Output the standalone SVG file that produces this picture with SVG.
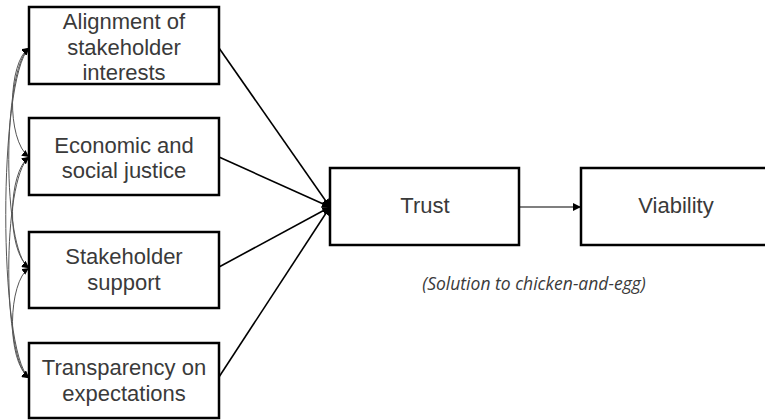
<svg xmlns="http://www.w3.org/2000/svg" width="765" height="420" viewBox="0 0 765 420">
<defs>
<style>
.box{fill:#fff;stroke:#000;stroke-width:2.5}
.lbl{font-family:"Liberation Sans",Arial,sans-serif;font-size:22px;fill:#3a3a3a;text-anchor:middle}
.note{font-family:"Open Sans","Liberation Sans",sans-serif;font-style:italic;font-size:17.5px;fill:#3a3a3a;text-anchor:middle}
.ln{stroke:#000;stroke-width:1.6;fill:none}
.cv{stroke:#555;stroke-width:1;fill:none}
</style>
<marker id="ah" viewBox="0 0 10 10" refX="10" refY="5" markerWidth="8" markerHeight="8" markerUnits="userSpaceOnUse" orient="auto">
<path d="M0,0 L10,5 L0,10 z" fill="#000"/>
</marker>
<marker id="ahs" viewBox="0 0 10 10" refX="10" refY="5" markerWidth="7" markerHeight="7" markerUnits="userSpaceOnUse" orient="auto-start-reverse">
<path d="M0,0 L10,5 L0,10 z" fill="#000"/>
</marker>
</defs>
<rect width="765" height="420" fill="#fff"/>
<g id="connectors">
<line class="ln" x1="219" y1="48" x2="330" y2="207" marker-end="url(#ah)"/>
<line class="ln" x1="219" y1="157" x2="330" y2="207" marker-end="url(#ah)"/>
<line class="ln" x1="219" y1="267" x2="330" y2="207" marker-end="url(#ah)"/>
<line class="ln" x1="219" y1="377" x2="330" y2="207" marker-end="url(#ah)"/>
<line x1="519" y1="207" x2="581" y2="207" stroke="#000" stroke-width="1.2" marker-end="url(#ah)"/>
<path class="cv" d="M29,48 C8,62 6,140 29,157" marker-start="url(#ahs)" marker-end="url(#ahs)"/>
<path class="cv" d="M29,48 C2,70 2,250 29,268" marker-start="url(#ahs)" marker-end="url(#ahs)"/>
<path class="cv" d="M29,48 C-2,80 -2,350 29,378" marker-start="url(#ahs)" marker-end="url(#ahs)"/>
<path class="cv" d="M29,157 C8,172 6,250 29,268" marker-start="url(#ahs)" marker-end="url(#ahs)"/>
<path class="cv" d="M29,157 C2,180 2,360 29,378" marker-start="url(#ahs)" marker-end="url(#ahs)"/>
<path class="cv" d="M29,268 C8,282 6,360 29,378" marker-start="url(#ahs)" marker-end="url(#ahs)"/>
</g>
<g id="n1">
<rect class="box" x="29" y="7" width="190" height="77"/>
<text class="lbl" x="124" y="29">Alignment of</text>
<text class="lbl" x="124" y="55">stakeholder</text>
<text class="lbl" x="124" y="80">interests</text>
</g>
<g id="n2">
<rect class="box" x="29" y="118" width="190" height="77"/>
<text class="lbl" x="124" y="153">Economic and</text>
<text class="lbl" x="124" y="178">social justice</text>
</g>
<g id="n3">
<rect class="box" x="29" y="232" width="190" height="76"/>
<text class="lbl" x="124" y="264">Stakeholder</text>
<text class="lbl" x="124" y="290">support</text>
</g>
<g id="n4">
<rect class="box" x="29" y="343" width="190" height="75"/>
<text class="lbl" x="124" y="375">Transparency on</text>
<text class="lbl" x="124" y="401">expectations</text>
</g>
<g id="trust">
<rect class="box" x="330" y="168" width="189" height="77"/>
<text class="lbl" x="425" y="213">Trust</text>
</g>
<g id="viability">
<rect class="box" x="581" y="168" width="190" height="77"/>
<text class="lbl" x="676" y="213">Viability</text>
</g>
<text class="note" x="534" y="290">(Solution to chicken-and-egg)</text>
</svg>
